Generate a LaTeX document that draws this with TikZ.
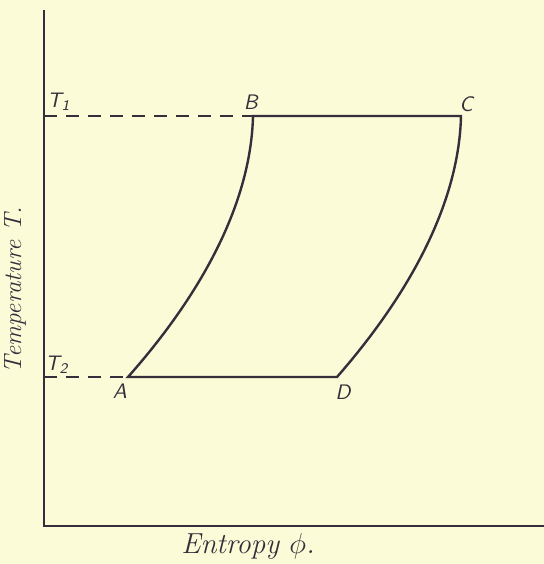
\documentclass[tikz,border=0pt]{standalone}
\usepackage{xcolor}
\usepackage{tikz}
\usetikzlibrary{positioning, calc}
\definecolor{paper}{RGB}{252,251,216}
\definecolor{ink}{RGB}{52,47,58}
\tikzset{
  axisline/.style={line width=1pt, color=ink},
  cycleline/.style={line width=1.2pt, color=ink, line join=miter},
  guide/.style={line width=0.9pt, color=ink, dash pattern=on 6.5pt off 4.5pt},
  ptlabel/.style={font=\fontsize{10.5}{12}\selectfont\sffamily\itshape, text=ink, inner sep=0pt},
  axlabel/.style={font=\fontsize{12.5}{14}\selectfont\itshape, text=ink, inner sep=0pt}
}

\begin{document}
\begin{tikzpicture}[x=0.5pt, y=-0.5pt]
  \fill[paper] (0,0) rectangle (544,564);
  \useasboundingbox (0,0) rectangle (544,564);

  % Axes
  \coordinate (O) at (44,526);
  \coordinate (ytop) at (44,10);
  \coordinate (xend) at (544,526);
  \draw[axisline] (ytop) -- (O) -- (xend);

  % Corner points of the cycle
  \coordinate (A) at (128,377);
  \coordinate (B) at (253,116);
  \coordinate (C) at (461,116);
  \coordinate (D) at (337,377);
  \coordinate (t1) at (44,116);
  \coordinate (t2) at (44,377);

  % Cycle
  \draw[cycleline] (A) .. controls (205,290) and (251,200) .. (B) -- (C)
    .. controls (459,200) and (413,290) .. (D) -- cycle;

  % Temperature levels
  \draw[guide] (t1) -- (B);
  \draw[guide] (t2) -- (A);

  % Labels
  \node[ptlabel] (lT1) at (59,102) {T\textsubscript{1}};
  \node[ptlabel] (lT2) at (57,365) {T\textsubscript{2}};
  \node[ptlabel] (lA) at (120,391) {A};
  \node[ptlabel] (lB) at (251,102) {B};
  \node[ptlabel] (lC) at (466,104) {C};
  \node[ptlabel] (lD) at (343,392) {D};
  \node[axlabel, rotate=90] (ylab) at (15,290) {Temperature T.};
  \node[axlabel, font=\fontsize{14.5}{16}\selectfont\itshape] (xlab) at (248,546) {Entropy $\phi$.};
\end{tikzpicture}
\end{document}
